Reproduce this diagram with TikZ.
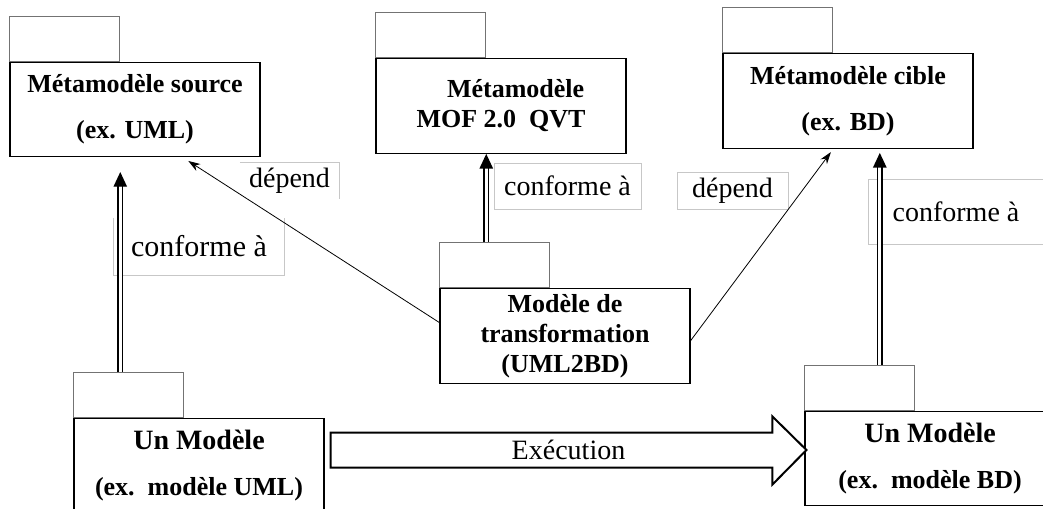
\documentclass[tikz,border=0pt]{standalone}
\usepackage{fontspec}
\setmainfont{Liberation Serif}
\usetikzlibrary{arrows.meta,calc,positioning}

\tikzset{
  pkgbody/.style={draw, line width=0.8pt, minimum width=187.5pt, minimum height=71pt, inner sep=0pt, align=center, font=\fontsize{19.5}{22.5}\selectfont\bfseries},
  pkgtab/.style={draw=black!55, line width=0.6pt, minimum width=82.5pt, minimum height=33.75pt, inner sep=0pt, anchor=south west},
  tag/.style={inner sep=0pt, font=\fontsize{21}{24}\selectfont},
  tagline/.style={draw=black!22, line width=0.5pt},
  conf/.style={double=white, double distance=2.2pt, line width=1pt, -{Triangle[width=10pt,length=11pt]}},
  dep/.style={line width=0.6pt, -{Stealth[width=6pt,length=9pt]}},
  exec/.style={draw, line width=1.5pt, fill=white}
}

\begin{document}
\begin{tikzpicture}[x=0.75pt,y=-0.75pt]
	\useasboundingbox (0,0) rectangle (1043,508);
	\clip (0,0) rectangle (1043,508);

		% the packages (body + tab)
	\node[pkgbody] (srcbody) at (135,109.5) {M\'etamod\`ele source\\[12pt](ex. UML)};
	\node[pkgtab] (srctab) at (srcbody.north west) {};

	\node[pkgbody] (mofbody) at (501,106) {\hspace*{22pt}M\'etamod\`ele\\MOF 2.0~~QVT};
	\node[pkgtab] (moftab) at (mofbody.north west) {};

	\node[pkgbody] (cibbody) at (848,101) {M\'etamod\`ele cible\\[12pt](ex. BD)};
	\node[pkgtab] (cibtab) at (cibbody.north west) {};

	\node[pkgbody] (trbody) at (565,336) {Mod\`ele de\\transformation\\(UML2BD)};
	\node[pkgtab] (trtab) at (trbody.north west) {};

	\node[pkgbody] (lmbody) at (199,465.5) {{\fontsize{21}{22.5}\selectfont Un Mod\`ele}\\[12pt](ex.~~mod\`ele UML)};
	\node[pkgtab] (lmtab) at (lmbody.north west) {};

	\node[pkgbody] (rmbody) at (930,458.5) {{\fontsize{21}{22.5}\selectfont Un Mod\`ele}\\[12pt](ex.~~mod\`ele BD)};
	\node[pkgtab] (rmtab) at (rmbody.north west) {};

		% the labels
	\node[tag, minimum width=74pt, minimum height=27pt] (dep1) at (289.5,181) {d\'epend};
	\node[tag, minimum width=127.5pt, minimum height=43pt, font=\fontsize{22.5}{24}\selectfont] (conf1) at (199,246.5) {conforme \`a};
	\node[tag, tagline, minimum width=110pt, minimum height=34.5pt] (conf2) at (567.5,186) {conforme \`a};
	\node[tag, tagline, minimum width=83pt, minimum height=28pt] (dep2) at (732.5,190.5) {d\'epend};
	\node[tag, minimum width=130.5pt, minimum height=48.75pt] (conf3) at (956,212) {conforme \`a};

	\draw[tagline] (dep1.north west) -- (dep1.north east) -- (dep1.south east);
	\draw[tagline] (conf1.north west) -- (conf1.south west) -- (conf1.south east) -- (conf1.north east);
	\draw[tagline] (conf3.north east) -- (conf3.north west) -- (conf3.south west) -- (conf3.south east);

		% conforme a
	\draw[conf, shorten >=11pt] (lmtab.north -| srctab.east) -- (srcbody.south -| srctab.east);
	\draw[conf] (trtab.north -| moftab.east) -- (mofbody.south -| moftab.east);
	\coordinate (rmfoot) at ($(rmtab.north west)!0.68!(rmtab.north east)$);
	\draw[conf, shorten >=3pt] (rmfoot) -- (cibbody.south -| rmfoot);

		% depend
	\draw[dep, shorten >=5pt] ($(trbody.north west)!0.36!(trbody.south west)$) -- ($(srcbody.south west)!0.69!(srcbody.south east)$);
	\draw[dep, shorten >=3pt] ($(trbody.north east)!0.55!(trbody.south east)$) -- (cibbody.south -| cibtab.east);

		% execution
	\coordinate (exs) at ($(lmbody.east |- 0,450)+(6,0)$);
	\coordinate (ext) at ($(rmbody.west |- 0,450)+(2,0)$);
	\draw[exec] (exs) ++(0,-17.5) -- ($(ext)+(-34,-17.5)$) -- ($(ext)+(-34,-33.5)$) -- (ext)
		-- ($(ext)+(-34,34.5)$) -- ($(ext)+(-34,17.5)$) -- ($(exs)+(0,17.5)$) -- cycle;
	\node[font=\fontsize{21}{22}\selectfont] (exlbl) at ($(exs)!0.5!(ext)$) {Ex\'ecution};
\end{tikzpicture}
\end{document}
